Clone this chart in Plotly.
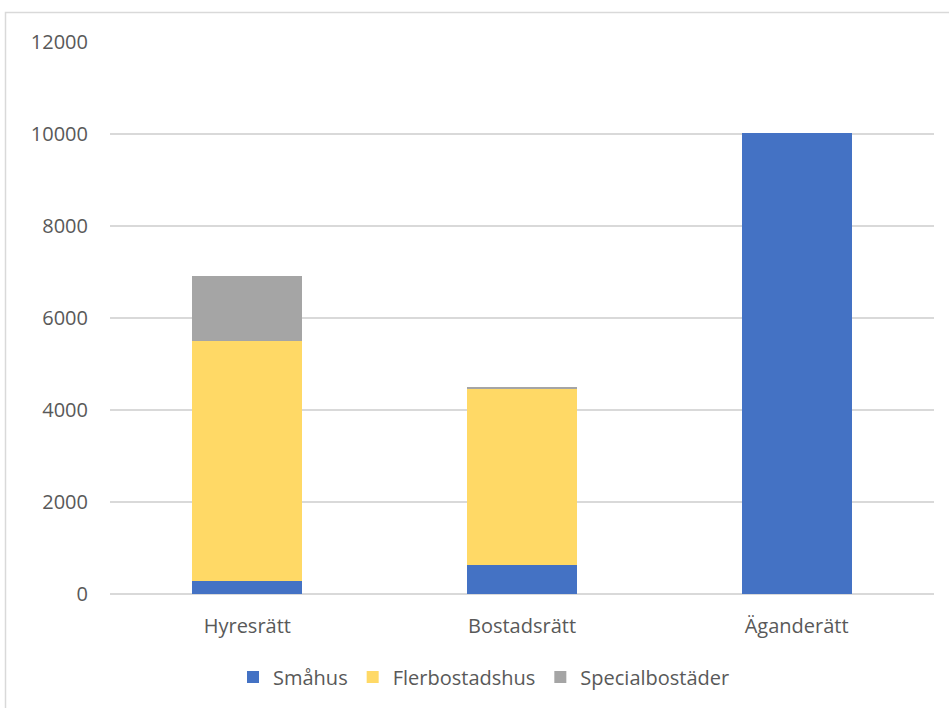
import plotly.graph_objects as go

categories = ["Hyresrätt", "Bostadsrätt", "Äganderätt"]
smahus = [290, 630, 10030]
flerbostadshus = [5210, 3840, 0]
specialbostader = [1420, 30, 0]
tick_vals = [0, 2000, 4000, 6000, 8000, 10000, 12000]
tick_text = ["0", "2000", "4000", "6000", "8000", "10000", "12000"]

series = [
    ("Småhus", smahus, "#4472C4"),
    ("Flerbostadshus", flerbostadshus, "#FFD966"),
    ("Specialbostäder", specialbostader, "#A5A5A5"),
]

fig = go.Figure()
for name, vals, color in series:
    fig.add_trace(go.Bar(x=categories, y=vals, name=name,
                         marker=dict(color=color, line=dict(width=0))))

W, H = 949, 708
ml, mr, mt, mb = 110, 15, 42, 114
pw, ph = W - ml - mr, H - mt - mb

def px_x(p):
    return (p - ml) / pw

def px_y(p):
    return (H - mb - p) / ph

fig.add_shape(type="rect", xref="paper", yref="paper",
              x0=px_x(5.5), x1=px_x(1100), y0=px_y(800), y1=px_y(12.5),
              line=dict(color="#D9D9D9", width=1.5), fillcolor="rgba(0,0,0,0)", layer="below")

fig.update_layout(
    width=W, height=H,
    margin=dict(l=ml, r=mr, t=mt, b=mb),
    barmode="stack", bargap=0.6,
    plot_bgcolor="white", paper_bgcolor="white",
    font=dict(family="Open Sans", size=18, color="#595959"),
    showlegend=True,
    legend=dict(orientation="h", x=px_x(484), xanchor="center",
                y=px_y(677), yanchor="middle", font=dict(size=20, color="#595959"),
                traceorder="normal", itemsizing="constant"),
    xaxis=dict(showgrid=False, showline=False, ticks="", ticklabelstandoff=18,
               tickfont=dict(size=20)),
    yaxis=dict(range=[0, 12000], tickvals=tick_vals, ticktext=tick_text, showgrid=True,
               gridcolor="#D9D9D9", gridwidth=1.5, zeroline=True,
               zerolinecolor="#D9D9D9", zerolinewidth=1.5,
               ticks="", ticklabelstandoff=21, tickfont=dict(size=20)),
)

fig.write_html("out.html", config={"displayModeBar": False},
               post_script="document.body.style.margin='0';document.body.style.overflow='hidden';")
